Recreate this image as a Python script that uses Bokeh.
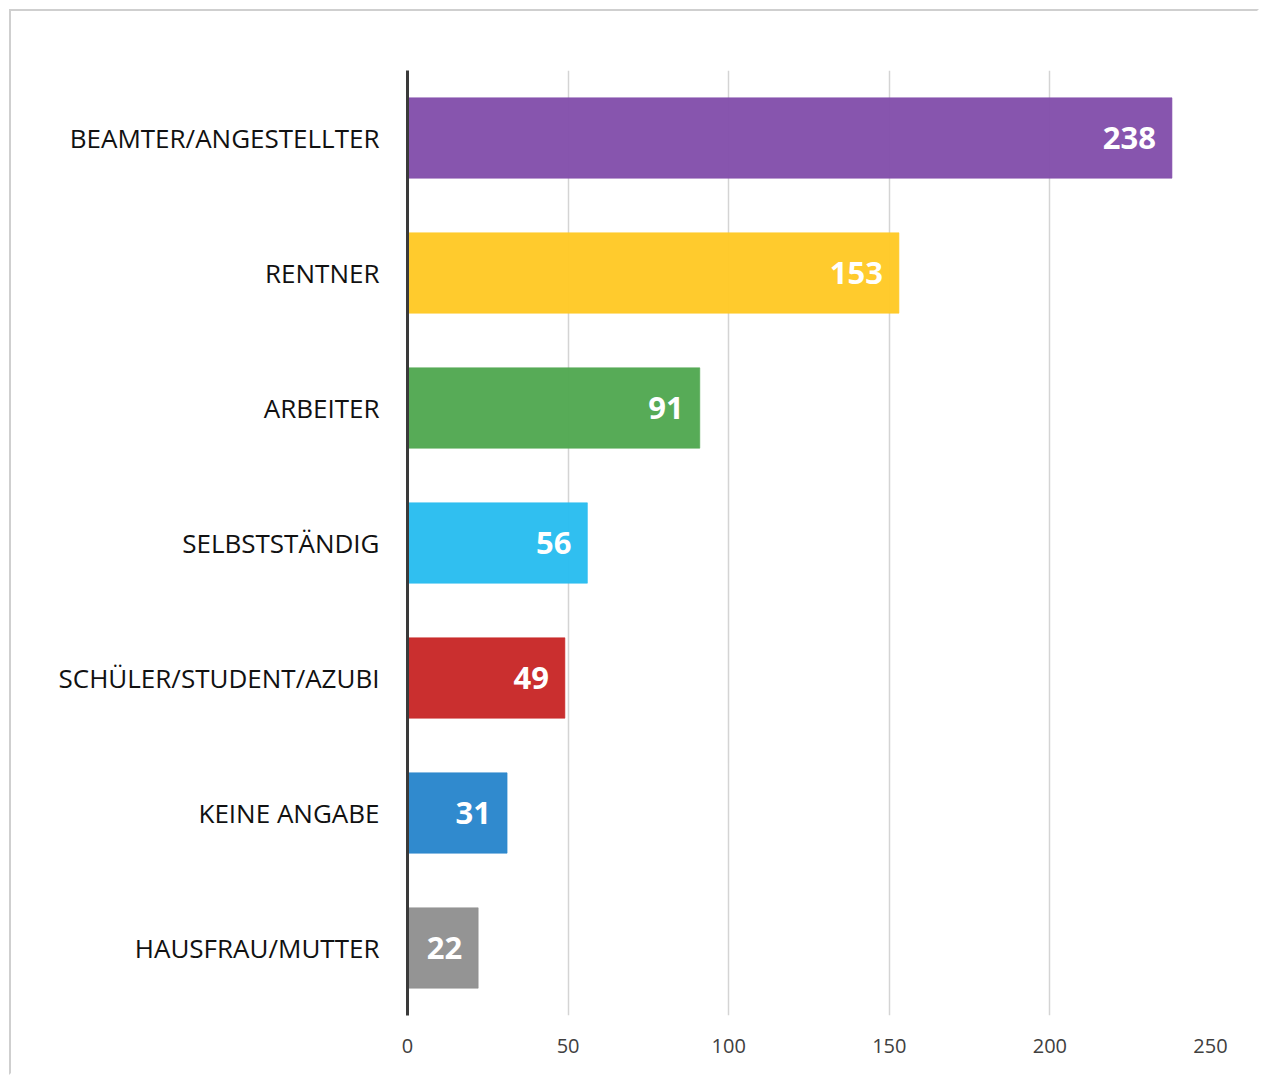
from bokeh.plotting import figure
from bokeh.models import ColumnDataSource, LabelSet, FixedTicker
from bokeh.core.properties import value
from bokeh.embed import file_html
from bokeh.resources import INLINE

categories = ["BEAMTER/ANGESTELLTER", "RENTNER", "ARBEITER", "SELBSTSTÄNDIG",
              "SCHÜLER/STUDENT/AZUBI", "KEINE ANGABE", "HAUSFRAU/MUTTER"]
values = [238, 153, 91, 56, 49, 31, 22]
colors = ["#8350AB", "#FFC926", "#52A852", "#29BDF0", "#C82828", "#2986CC", "#919191"]
x_ticks = [0, 50, 100, 150, 200, 250]

src = ColumnDataSource(dict(cat=categories, val=values, col=colors,
                            lab=[str(v) for v in values]))

p = figure(width=1250, height=1066, y_range=list(reversed(categories)),
           x_range=(0, 250), output_backend="svg", toolbar_location=None,
           min_border_left=396, min_border_right=51, min_border_top=59,
           min_border_bottom=62)
p.styles = {"border-top": "2px solid #cfcfcf", "border-left": "2px solid #cfcfcf",
            "border-right": "2px solid transparent", "border-bottom": "2px solid transparent",
            "margin-left": "9px", "margin-top": "9px"}
p.outline_line_color = None
p.y_range.range_padding = 0

p.hbar(y="cat", right="val", left=0, height=0.595, source=src,
       fill_color="col", line_color="col", line_alpha=0.6, fill_alpha=0.97)

labels = LabelSet(x="val", y="cat", text="lab", source=src, x_offset=-16,
                  text_align="right", text_baseline="middle",
                  text_color="white", text_font=value("Open Sans"),
                  text_font_style="bold", text_font_size="31px")
p.add_layout(labels)

p.xgrid.ticker = FixedTicker(ticks=x_ticks)
p.xgrid.grid_line_color = "#d4d4d4"
p.xgrid.grid_line_width = 1.5
p.ygrid.grid_line_color = None

p.xaxis.ticker = FixedTicker(ticks=x_ticks)
p.xaxis.axis_line_color = None
p.xaxis.major_tick_line_color = None
p.xaxis.minor_tick_line_color = None
p.xaxis.major_label_text_font = "Open Sans"
p.xaxis.major_label_text_font_size = "20px"
p.xaxis.major_label_text_color = "#404040"
p.xaxis.major_label_standoff = 17

p.yaxis.axis_line_color = "#3a3a3a"
p.yaxis.axis_line_width = 3
p.yaxis.major_tick_line_color = None
p.yaxis.minor_tick_line_color = None
p.yaxis.major_label_text_font = "Open Sans"
p.yaxis.major_label_text_font_size = "26px"
p.yaxis.major_label_text_color = "#111111"
p.yaxis.major_label_standoff = 22

open("out.html", "w").write(file_html(p, INLINE))
